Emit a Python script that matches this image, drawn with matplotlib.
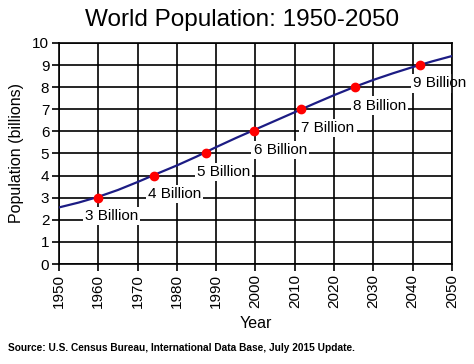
import matplotlib
matplotlib.use('Agg')
import matplotlib.pyplot as plt

plt.rcParams['font.family'] = ['Liberation Sans', 'DejaVu Sans']

# World population (billions), U.S. Census Bureau IDB, July 2015
years = [1950, 1955, 1960, 1965, 1970, 1975, 1980, 1985, 1990, 1995, 2000,
         2005, 2010, 2015, 2020, 2025, 2030, 2035, 2040, 2045, 2050]
population = [2.56, 2.78, 3.04, 3.35, 3.71, 4.09, 4.46, 4.86, 5.29, 5.70, 6.09,
              6.48, 6.87, 7.26, 7.64, 8.00, 8.33, 8.63, 8.91, 9.17, 9.41]

# milestone years for each billion
milestone_years = [1959.8, 1974.2, 1987.4, 1999.5, 2011.7, 2025.3, 2041.9]
milestone_values = [3, 4, 5, 6, 7, 8, 9]
milestone_labels = ['3 Billion', '4 Billion', '5 Billion', '6 Billion',
                    '7 Billion', '8 Billion', '9 Billion']

# horizontal nudge of each label (points) relative to its dot
label_dx = [-9, -4.5, -6.5, 0, 0, -1.5, -5]

xticks = list(range(1950, 2051, 10))
yticks = list(range(0, 11))

fig = plt.figure(figsize=(4.74, 3.64), dpi=100)
ax = fig.add_axes([0.1245, 0.2747, 0.829, 0.6072])

ax.plot(years, population, color='#1c1c84', linewidth=1.6, zorder=3)
ax.plot(milestone_years, milestone_values, 'o', color='#ff0000',
        markersize=6, zorder=4)

for x, y, lab, dx in zip(milestone_years, milestone_values, milestone_labels, label_dx):
    ax.annotate(lab, (x, y - 0.83), xytext=(dx, 0), textcoords='offset points',
                ha='left', va='center', fontsize=11,
                bbox=dict(facecolor='white', edgecolor='none', pad=1.5), zorder=2)

ax.set_xlim(1950, 2050)
ax.set_ylim(0, 10)
ax.set_xticks(xticks)
ax.set_yticks(yticks)
ax.set_xticklabels([str(t) for t in xticks], rotation=90)
ax.tick_params(direction='out', length=5, width=1.2, labelsize=11, pad=2)
ax.grid(True, color='black', linewidth=1.2, zorder=1)
ax.set_axisbelow(True)
for s in ax.spines.values():
    s.set_linewidth(1.2)

fig.text(0.51, 0.945, 'World Population: 1950-2050', fontsize=17.5,
         ha='center', va='center')
ax.set_xlabel('Year', fontsize=11.5, labelpad=6)
ax.set_ylabel('Population (billions)', fontsize=11.5, labelpad=6)

fig.text(0.017, 0.045, 'Source: U.S. Census Bureau, International Data Base, July 2015 Update.',
         fontsize=7.3, fontweight='bold', ha='left', va='center')

fig.savefig('out.png', dpi=100)
